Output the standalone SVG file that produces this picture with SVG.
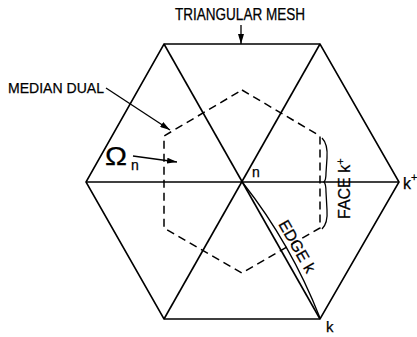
<svg xmlns="http://www.w3.org/2000/svg" width="417" height="337" viewBox="0 0 417 337">
<style>
.mesh{fill:none;stroke:#000;stroke-width:1.6;stroke-linejoin:miter}
.dual{fill:none;stroke:#000;stroke-width:1.5;stroke-dasharray:8 5}
.thin{fill:none;stroke:#000;stroke-width:1.3}
.lbl{font-family:"Liberation Sans",Arial,sans-serif;fill:#000;stroke:#000;stroke-width:0.25}
</style>
<defs>
<marker id="ah" markerUnits="userSpaceOnUse" markerWidth="11" markerHeight="6" refX="10" refY="3" orient="auto">
<path d="M0,0 L10,3 L0,6 z" fill="#000"/>
</marker>
</defs>
<g id="mesh">
<polygon class="mesh" points="164,44 320,44 399,182 320,319 164,319 86,182"/>
<line class="mesh" x1="86" y1="182" x2="399" y2="182"/>
<line class="mesh" x1="164" y1="44" x2="320" y2="319"/>
<line class="mesh" x1="320" y1="44" x2="164" y2="319"/>
</g>
<g id="median-dual">
<polygon class="dual" points="242,90 320,136 320,228 242,273 164,228 164,136"/>
</g>
<g id="edge-curve">
<path class="thin" d="M243,183 Q291,244 320,318"/>
</g>
<g id="face-brace">
<path class="thin" d="M322,138 Q328,144 327,158 L326,173 Q326,180 324,182 Q326,184 326,192 L327,210 Q328,223 322,229"/>
</g>
<g id="connectors">
<line class="thin" x1="241" y1="25" x2="241" y2="44" marker-end="url(#ah)"/>
<line class="thin" x1="106" y1="88" x2="170" y2="130" marker-end="url(#ah)"/>
<line class="thin" x1="133" y1="156" x2="177" y2="162" marker-end="url(#ah)"/>
</g>
<g id="labels">
<text class="lbl" x="175" y="20" font-size="16" textLength="130" lengthAdjust="spacingAndGlyphs">TRIANGULAR MESH</text>
<text class="lbl" x="8" y="93" font-size="15" textLength="96" lengthAdjust="spacingAndGlyphs">MEDIAN DUAL</text>
<text class="lbl" x="105" y="165" font-size="25" textLength="22" lengthAdjust="spacingAndGlyphs">Ω</text>
<text class="lbl" x="131" y="170" font-size="14">n</text>
<text class="lbl" x="252" y="177" font-size="14">n</text>
<text class="lbl" x="403" y="189" font-size="16">k<tspan dy="-8" font-size="11">+</tspan></text>
<text class="lbl" x="326" y="332" font-size="15">k</text>
<text class="lbl" font-size="16" transform="translate(350,219) rotate(-90)">FACE k<tspan dy="-6" font-size="11">+</tspan></text>
<text class="lbl" font-size="16" transform="translate(278,224) rotate(60.2)">EDGE k</text>
</g>
</svg>
